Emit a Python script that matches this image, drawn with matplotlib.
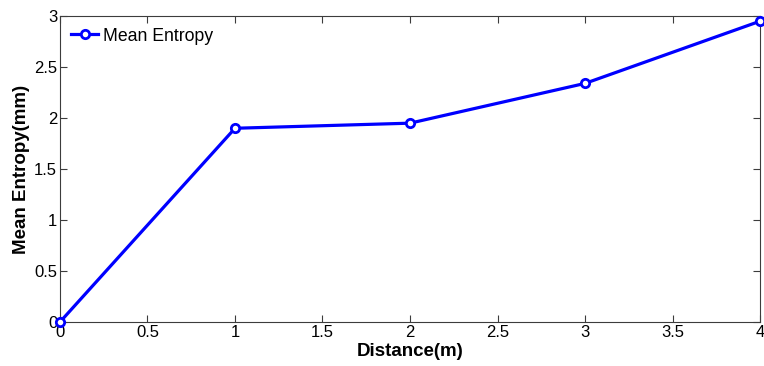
import matplotlib
matplotlib.use("Agg")
import matplotlib.pyplot as plt

distance = [0, 1, 2, 3, 4]
mean_entropy = [0.0, 1.90, 1.95, 2.34, 2.95]
xticks = [0, 0.5, 1, 1.5, 2, 2.5, 3, 3.5, 4]
xticklabels = ["0", "0.5", "1", "1.5", "2", "2.5", "3", "3.5", "4"]
yticks = [0, 0.5, 1, 1.5, 2, 2.5, 3]
yticklabels = ["0", "0.5", "1", "1.5", "2", "2.5", "3"]

plt.rcParams['font.family'] = ['Liberation Sans', 'DejaVu Sans']

fig = plt.figure(figsize=(7.64, 3.66), dpi=100)
ax = fig.add_axes([0.0785, 0.1202, 0.9163, 0.8358])

ax.plot(distance, mean_entropy, color='#0000ff', linewidth=2.3, marker='o',
        markersize=6, markerfacecolor='white', markeredgecolor='#0000ff',
        markeredgewidth=2.0, label='Mean Entropy', clip_on=False, zorder=5)

ax.set_xlim(0, 4)
ax.set_ylim(0, 3)
ax.set_xticks(xticks)
ax.set_xticklabels(xticklabels)
ax.set_yticks(yticks)
ax.set_yticklabels(yticklabels)

for s in ax.spines.values():
    s.set_color('#3c3c3c')
    s.set_linewidth(0.8)
ax.tick_params(direction='in', length=5, width=0.8, color='#3c3c3c',
               labelsize=12, top=True, right=True, pad=2)

ax.set_xlabel('Distance(m)', fontsize=13.5, fontweight='bold', labelpad=2)
ax.set_ylabel('Mean Entropy(mm)', fontsize=13.5, fontweight='bold', labelpad=3)

leg = ax.legend(loc='upper left', frameon=False, fontsize=12.7,
                handlelength=1.5, handletextpad=0.3, borderaxespad=0.2,
                borderpad=0.45)

fig.savefig('out.png', dpi=100)
